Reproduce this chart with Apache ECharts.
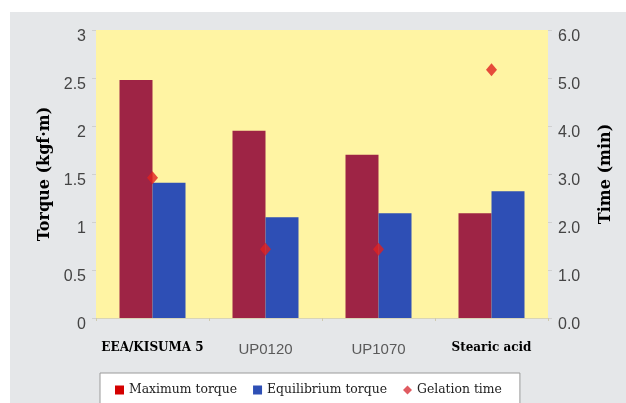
<!DOCTYPE html>
<html>
<head>
<meta charset="utf-8">
<script src="https://cdn.jsdelivr.net/npm/echarts@6/dist/echarts.min.js"></script>
<style>
html,body{margin:0;padding:0;background:#fff;}
#chart{width:626px;height:403px;}
</style>
</head>
<body>
<div id="chart"></div>
<script>
var categories = ['EEA/KISUMA 5', 'UP0120', 'UP1070', 'Stearic acid'];
var maxTorque = [2.48, 1.95, 1.70, 1.09];
var eqTorque = [1.41, 1.05, 1.09, 1.32];
var gelationTime = [2.92, 1.43, 1.43, 5.17];
var leftTicks = [0, 0.5, 1, 1.5, 2, 2.5, 3];
var rightTicks = [0, 1, 2, 3, 4, 5, 6];

var serifLabels = {'EEA/KISUMA 5': true, 'Stearic acid': true};

var tickLabelStyle = {fontFamily: 'Liberation Sans', fontSize: 16, color: '#444', padding: [14, 0, 0, 0]};

var chart = echarts.init(document.getElementById('chart'), null, {renderer: 'canvas'});
chart.setOption({
  backgroundColor: '#ffffff',
  animation: false,
  graphic: [{
    type: 'rect', z: -10, silent: true,
    shape: {x: 10, y: 12, width: 616, height: 391},
    style: {fill: '#E5E7E9'}
  }],
  grid: {
    left: 96, right: 78, top: 30, bottom: 85,
    show: true, backgroundColor: '#FFF4A3', borderWidth: 0
  },
  legend: {
    left: 100, top: 373,
    padding: [11, 18, 20, 15],
    backgroundColor: '#ffffff',
    borderColor: '#9a9a9a', borderWidth: 1,
    itemWidth: 9, itemHeight: 9, itemGap: 16,
    textStyle: {fontFamily: 'DejaVu Serif', fontSize: 12.4, color: '#222'},
    data: [
      {name: 'Maximum torque', icon: 'rect', itemStyle: {color: '#D40000'}},
      {name: 'Equilibrium torque', icon: 'rect', itemStyle: {color: '#2E4FB5'}},
      {name: 'Gelation time', icon: 'diamond', itemStyle: {color: '#D8323A'}}
    ]
  },
  xAxis: {
    type: 'category',
    data: categories,
    axisLine: {show: true, lineStyle: {color: '#d8d4b8'}},
    axisTick: {show: true, length: 3, lineStyle: {color: '#cfcab0'}},
    axisLabel: {
      interval: 0,
      margin: 24,
      formatter: function (v) {
        return serifLabels[v] ? '{s|' + v + '}' : '{g|' + v + '}';
      },
      rich: {
        s: {fontFamily: 'DejaVu Serif', fontWeight: 'bold', fontSize: 12, color: '#000'},
        g: {fontFamily: 'Liberation Sans', fontSize: 15, color: '#5a5a5a'}
      }
    }
  },
  yAxis: [{
    type: 'value', min: 0, max: 3, interval: 0.5,
    name: 'Torque (kgf\u00b7m)', nameLocation: 'middle', nameGap: 41,
    nameTextStyle: {fontFamily: 'DejaVu Serif', fontWeight: 'bold', fontSize: 16, color: '#000'},
    axisLine: {show: false},
    axisTick: {show: true, length: 4, lineStyle: {color: '#d0d0d0'}},
    splitLine: {show: false},
    axisLabel: {
      margin: 10,
      formatter: function (v) { return leftTicks.indexOf(v) >= 0 ? '{t|' + v + '}' : ''; },
      rich: {t: tickLabelStyle}
    }
  }, {
    type: 'value', min: 0, max: 6, interval: 1,
    name: 'Time (min)', nameLocation: 'middle', nameGap: 50,
    nameTextStyle: {fontFamily: 'DejaVu Serif', fontWeight: 'bold', fontSize: 16, color: '#000'},
    axisLine: {show: false},
    axisTick: {show: true, length: 4, lineStyle: {color: '#d0d0d0'}},
    splitLine: {show: false},
    axisLabel: {
      margin: 10,
      formatter: function (v) { return rightTicks.indexOf(v) >= 0 ? '{t|' + v.toFixed(1) + '}' : ''; },
      rich: {t: tickLabelStyle}
    }
  }],
  series: [{
    name: 'Maximum torque', type: 'bar', yAxisIndex: 0,
    data: maxTorque, barWidth: 33, barGap: '0%',
    itemStyle: {color: '#9E2445'}
  }, {
    name: 'Equilibrium torque', type: 'bar', yAxisIndex: 0,
    data: eqTorque, barWidth: 33, barGap: '0%',
    itemStyle: {color: '#2E4FB5'}
  }, {
    name: 'Gelation time', type: 'scatter', yAxisIndex: 1,
    data: gelationTime, symbol: 'diamond', symbolSize: [11, 13], z: 5,
    itemStyle: {color: '#E0201F'}
  }]
});
</script>
</body>
</html>
